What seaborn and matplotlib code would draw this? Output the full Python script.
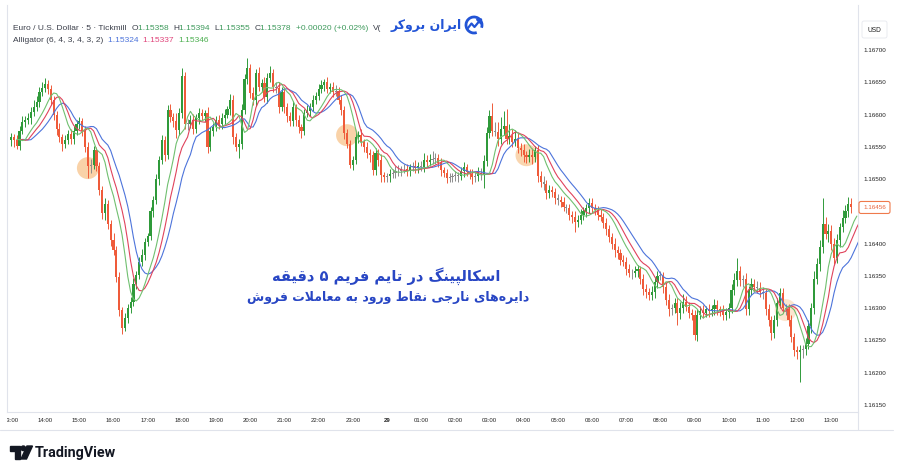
import numpy as np
import pandas as pd
import matplotlib
matplotlib.use("Agg")
import matplotlib.pyplot as plt
import seaborn as sns
from matplotlib.patches import Polygon, Circle, Arc, FancyBboxPatch
from matplotlib.transforms import Bbox, TransformedBbox

# EURUSD 5 min closes, one row per hour (12 candles), starting 13:00
first_open = 1.16560
close = [
    1.16565, 1.16560, 1.16552, 1.16575, 1.16588, 1.16592, 1.16595, 1.16604, 1.16612, 1.16620, 1.16635, 1.16641,
    1.16648, 1.16640, 1.16622, 1.16600, 1.16578, 1.16565, 1.16555, 1.16560, 1.16570, 1.16562, 1.16575, 1.16585,
    1.16590, 1.16575, 1.16550, 1.16520, 1.16522, 1.16545, 1.16520, 1.16483, 1.16447, 1.16462, 1.16430, 1.16405,
    1.16390, 1.16348, 1.16297, 1.16270, 1.16285, 1.16300, 1.16310, 1.16337, 1.16352, 1.16372, 1.16383, 1.16403,
    1.16412, 1.16450, 1.16468, 1.16500, 1.16530, 1.16560, 1.16538, 1.16607, 1.16596, 1.16590, 1.16576, 1.16602,
    1.16660, 1.16585, 1.16585, 1.16592, 1.16578, 1.16595, 1.16602, 1.16597, 1.16602, 1.16550, 1.16575, 1.16580,
    1.16592, 1.16585, 1.16595, 1.16600, 1.16608, 1.16622, 1.16565, 1.16550, 1.16555, 1.16607, 1.16655, 1.16672,
    1.16633, 1.16622, 1.16665, 1.16643, 1.16649, 1.16627, 1.16657, 1.16665, 1.16643, 1.16641, 1.16612, 1.16635,
    1.16612, 1.16597, 1.16590, 1.16612, 1.16592, 1.16580, 1.16575, 1.16602, 1.16606, 1.16612, 1.16623, 1.16628,
    1.16640, 1.16645, 1.16650, 1.16640, 1.16643, 1.16635, 1.16637, 1.16623, 1.16607, 1.16571, 1.16555, 1.16522,
    1.16530, 1.16565, 1.16568, 1.16557, 1.16550, 1.16540, 1.16537, 1.16514, 1.16540, 1.16530, 1.16506, 1.16503,
    1.16504, 1.16508, 1.16510, 1.16512, 1.16513, 1.16515, 1.16516, 1.16512, 1.16518, 1.16520, 1.16517, 1.16520,
    1.16518, 1.16530, 1.16527, 1.16530, 1.16531, 1.16533, 1.16525, 1.16514, 1.16510, 1.16502, 1.16503, 1.16504,
    1.16506, 1.16504, 1.16512, 1.16518, 1.16511, 1.16508, 1.16503, 1.16505, 1.16510, 1.16508, 1.16528, 1.16572,
    1.16598, 1.16575, 1.16573, 1.16562, 1.16578, 1.16583, 1.16562, 1.16566, 1.16558, 1.16562, 1.16548, 1.16545,
    1.16537, 1.16534, 1.16538, 1.16534, 1.16545, 1.16505, 1.16495, 1.16493, 1.16478, 1.16483, 1.16480, 1.16470,
    1.16468, 1.16465, 1.16457, 1.16455, 1.16445, 1.16442, 1.16434, 1.16437, 1.16445, 1.16450, 1.16455, 1.16463,
    1.16455, 1.16452, 1.16445, 1.16442, 1.16432, 1.16422, 1.16410, 1.16400, 1.16390, 1.16385, 1.16375, 1.16372,
    1.16360, 1.16355, 1.16354, 1.16357, 1.16360, 1.16345, 1.16330, 1.16325, 1.16320, 1.16325, 1.16340, 1.16350,
    1.16350, 1.16333, 1.16313, 1.16298, 1.16300, 1.16308, 1.16292, 1.16300, 1.16310, 1.16302, 1.16293, 1.16290,
    1.16258, 1.16290, 1.16295, 1.16292, 1.16298, 1.16295, 1.16298, 1.16305, 1.16298, 1.16295, 1.16290, 1.16294,
    1.16300, 1.16328, 1.16343, 1.16358, 1.16343, 1.16345, 1.16298, 1.16328, 1.16338, 1.16333, 1.16332, 1.16325,
    1.16323, 1.16298, 1.16282, 1.16262, 1.16282, 1.16308, 1.16323, 1.16300, 1.16298, 1.16282, 1.16255, 1.16235,
    1.16232, 1.16235, 1.16236, 1.16245, 1.16272, 1.16300, 1.16345, 1.16368, 1.16395, 1.16430, 1.16415, 1.16420,
    1.16400, 1.16378, 1.16405, 1.16425, 1.16440, 1.16450, 1.16462, 1.16456,
]
# wick lengths above / below the body, in 0.00001
wick_up = [
    6, 5, 8, 7, 9, 6, 8, 7, 10, 9, 8, 9,
    8, 6, 5, 7, 6, 9, 5, 8, 6, 7, 8, 6,
    6, 5, 7, 8, 9, 6, 5, 7, 6, 8, 5, 6,
    12, 6, 8, 5, 7, 6, 8, 9, 6, 7, 8, 6,
    5, 7, 6, 8, 6, 9, 7, 8, 10, 6, 12, 8,
    12, 6, 8, 7, 9, 6, 8, 7, 5, 9, 6, 7,
    6, 8, 7, 9, 6, 10, 8, 6, 7, 9, 8, 16,
    7, 9, 5, 8, 6, 9, 7, 10, 6, 8, 9, 7,
    8, 6, 7, 9, 5, 8, 6, 7, 9, 6, 8, 7,
    7, 9, 5, 8, 6, 7, 9, 5, 8, 6, 7, 5,
    6, 8, 7, 9, 5, 8, 6, 7, 8, 6, 9, 5,
    6, 7, 5, 8, 9, 6, 7, 8, 6, 7, 9, 6,
    8, 10, 7, 9, 12, 8, 6, 7, 5, 6, 7, 5,
    6, 5, 7, 8, 6, 5, 7, 6, 8, 7, 9, 8,
    9, 20, 14, 16, 18, 22, 25, 20, 12, 14, 10, 8,
    9, 7, 8, 10, 6, 8, 7, 9, 6, 8, 7, 6,
    7, 6, 8, 5, 7, 6, 8, 7, 9, 6, 7, 8,
    8, 6, 7, 9, 6, 8, 7, 6, 8, 7, 6, 8,
    7, 9, 6, 8, 7, 6, 8, 7, 6, 9, 8, 7,
    8, 6, 7, 9, 6, 8, 7, 10, 12, 9, 7, 6,
    7, 9, 8, 10, 6, 8, 7, 9, 8, 6, 10, 7,
    8, 10, 12, 20, 8, 7, 9, 6, 8, 7, 9, 8,
    8, 7, 9, 6, 8, 7, 9, 8, 6, 8, 7, 6,
    6, 8, 7, 9, 10, 8, 12, 9, 10, 41, 12, 10,
    9, 8, 10, 7, 12, 10, 10, 8,
]
wick_dn = [
    8, 10, 6, 7, 5, 8, 6, 9, 7, 6, 8, 7,
    6, 8, 7, 9, 10, 8, 12, 7, 6, 8, 7, 6,
    7, 9, 8, 18, 10, 6, 8, 7, 9, 10, 8, 9,
    8, 7, 9, 10, 6, 8, 7, 6, 8, 7, 6, 8,
    7, 6, 8, 7, 9, 6, 10, 7, 8, 9, 12, 7,
    8, 7, 9, 6, 8, 7, 9, 6, 8, 10, 7, 8,
    6, 8, 7, 9, 6, 8, 10, 7, 17, 8, 6, 7,
    8, 7, 9, 6, 8, 7, 9, 6, 8, 7, 9, 6,
    10, 9, 8, 7, 9, 8, 11, 7, 6, 8, 7, 6,
    6, 7, 8, 6, 7, 8, 6, 7, 8, 9, 7, 5,
    8, 7, 9, 6, 8, 7, 10, 8, 7, 9, 10, 8,
    7, 8, 6, 9, 7, 8, 6, 8, 7, 6, 8, 7,
    6, 7, 8, 6, 7, 8, 6, 9, 7, 8, 6, 7,
    7, 8, 6, 9, 7, 8, 10, 7, 8, 9, 22, 8,
    8, 9, 7, 10, 8, 9, 7, 8, 9, 7, 8, 9,
    10, 9, 8, 10, 7, 9, 8, 10, 9, 7, 8, 9,
    8, 9, 7, 8, 9, 10, 16, 8, 7, 8, 9, 7,
    7, 8, 9, 7, 8, 9, 7, 8, 10, 9, 8, 7,
    8, 7, 9, 6, 8, 7, 9, 10, 8, 7, 9, 8,
    7, 9, 8, 10, 9, 7, 18, 9, 8, 7, 9, 8,
    8, 9, 7, 8, 6, 9, 7, 8, 9, 7, 8, 9,
    9, 8, 7, 8, 9, 10, 8, 9, 7, 8, 9, 8,
    9, 8, 10, 12, 8, 9, 7, 8, 9, 10, 8, 9,
    10, 46, 12, 9, 8, 10, 9, 8, 10, 9, 8, 12,
    10, 9, 8, 10, 7, 8, 9, 8,
]
hour_labels = ["13:00", "14:00", "15:00", "16:00", "17:00", "18:00", "19:00", "20:00",
               "21:00", "22:00", "23:00", "29", "01:00", "02:00", "03:00", "04:00",
               "05:00", "06:00", "07:00", "08:00", "09:00", "10:00", "11:00", "12:00", "13:00"]
price_ticks = [1.16700, 1.16650, 1.16600, 1.16550, 1.16500, 1.16400,
               1.16350, 1.16300, 1.16250, 1.16200, 1.16150]
last_price = 1.16456
# orange entry circles (candle index, price)
circle_idx = [27, 118, 181, 272]
circle_price = [1.16517, 1.16568, 1.16537, 1.16297]
circle_alpha = [0.55, 0.55, 0.5, 0.3]

title_fa = "اسکالپینگ در تایم فریم ۵ دقیقه"
subtitle_fa = "دایره\u200cهای نارجی نقاط ورود به معاملات فروش"
brand_fa = "ایران بروکر"


# --- simple Arabic-script shaping (matplotlib draws glyphs left to right, unjoined) ---
def _forms(base, n):
    return tuple(chr(base + k) for k in range(n))

DUAL = {"ب": _forms(0xFE8F, 4), "ت": _forms(0xFE95, 4), "ج": _forms(0xFE9D, 4),
        "س": _forms(0xFEB1, 4), "ش": _forms(0xFEB5, 4), "ط": _forms(0xFEC1, 4),
        "ع": _forms(0xFEC9, 4), "ف": _forms(0xFED1, 4), "ق": _forms(0xFED5, 4),
        "ل": _forms(0xFEDD, 4), "م": _forms(0xFEE1, 4), "ن": _forms(0xFEE5, 4),
        "ه": _forms(0xFEE9, 4), "پ": _forms(0xFB56, 4), "ک": _forms(0xFB8E, 4),
        "گ": _forms(0xFB92, 4), "ی": _forms(0xFBFC, 4)}
RIGHT = {"ا": _forms(0xFE8D, 2), "د": _forms(0xFEA9, 2), "ر": _forms(0xFEAD, 2),
         "و": _forms(0xFEED, 2)}


def shape(text):
    out = []
    n = len(text)
    i = 0
    while i < n:
        ch = text[i]
        prev = text[i - 1] if i > 0 else ""
        nxt = text[i + 1] if i + 1 < n else ""
        if ch == "ل" and nxt == "ا":
            out.append("\uFEFC" if prev in DUAL else "\uFEFB")
            i += 2
            continue
        if ch in DUAL:
            p, q = prev in DUAL, (nxt in DUAL or nxt in RIGHT)
            f = DUAL[ch]
            out.append(f[3] if p and q else f[1] if p else f[2] if q else f[0])
        elif ch in RIGHT:
            out.append(RIGHT[ch][1] if prev in DUAL else RIGHT[ch][0])
        elif ch != "\u200c":
            out.append(ch)
        i += 1
    return "".join(reversed(out))


# --- candles ---
df = pd.DataFrame({"close": close})
df["open"] = [first_open] + close[:-1]
df["up"] = np.array(wick_up) * 1e-5
df["dn"] = np.array(wick_dn) * 1e-5
df["high"] = df[["open", "close"]].max(axis=1) + df["up"]
df["low"] = df[["open", "close"]].min(axis=1) - df["dn"]
df["idx"] = np.arange(len(df))
body = df["close"] - df["open"]
df["color"] = np.where(body.abs() < 2.5e-5, "#8c8c8c", np.where(body > 0, "#2f9a3a", "#ef5b3a"))
df["h"] = np.where(body.abs() < 1.2e-5, np.sign(body.replace(0, 1)) * 1.2e-5, body)

# Alligator (6, 4, 3, 4, 3, 2) on median price
hl2 = (df["high"] + df["low"]) / 2
rows = []
for name, length, shift in [("jaw", 6, 4), ("teeth", 4, 3), ("lips", 3, 2)]:
    smma = hl2.ewm(alpha=1 / length, adjust=False).mean()
    rows.append(pd.DataFrame({"idx": df["idx"] + shift, "value": smma, "line": name}))
gator = pd.concat(rows, ignore_index=True)

sns.set_theme(style="white")
plt.rcParams["font.family"] = ["Liberation Sans", "DejaVu Sans"]

W, H = 900, 471
fig = plt.figure(figsize=(9, 4.71), dpi=100)
fig.patch.set_facecolor("white")

PX_PER_PRICE = 64540.0
def price_at(py):
    return 1.167 - (py - 50) / PX_PER_PRICE
def idx_at(px):
    return (px - 11) / 2.848

ax = fig.add_axes([7 / W, 1 - 412 / H, (858 - 7) / W, (412 - 5) / H])
ax.set_facecolor("white")

ax.scatter(circle_idx, circle_price, s=250, c="#f5ae62", alpha=circle_alpha, lw=0, zorder=1)
ax.vlines(df["idx"], df["low"], df["high"], colors=df["color"], lw=0.7, zorder=2)
ax.bar(df["idx"], df["h"], bottom=df["open"], width=0.75, color=df["color"], lw=0, zorder=2)
sns.lineplot(data=gator, x="idx", y="value", hue="line", estimator=None, sort=True,
             palette={"jaw": "#4d74db", "teeth": "#e0435c", "lips": "#70c070"},
             linewidth=0.8, legend=False, ax=ax, zorder=3)

ax.set_xlim(idx_at(7), idx_at(858))
ax.set_ylim(price_at(412), price_at(5))
ax.set_xlabel("")
ax.set_ylabel("")

ax.set_xticks(np.arange(len(hour_labels)) * 12)
ax.set_xticklabels(hour_labels)
ax.yaxis.tick_right()
ax.set_yticks(price_ticks)
ax.set_yticklabels([f"{p:.5f}" for p in price_ticks])
ax.tick_params(axis="x", length=0, pad=4, labelsize=4.3, labelcolor="#222222")
ax.tick_params(axis="y", length=0, pad=4, labelsize=4.5, labelcolor="#222222")
for lbl in ax.get_xticklabels():
    if lbl.get_text() == "29":
        lbl.set_fontweight("bold")
first_lbl = ax.get_xticklabels()[0]
first_lbl.set_clip_box(TransformedBbox(Bbox([[7 / W, 0], [1, 1]]), fig.transFigure))
first_lbl.set_clip_on(True)

ax.spines["top"].set_visible(False)
for side in ["left", "right", "bottom"]:
    ax.spines[side].set_color("#e0e3eb")
    ax.spines[side].set_linewidth(0.8)

# overlay in pixel coordinates for the chrome
ov = fig.add_axes([0, 0, 1, 1], zorder=10)
ov.set_xlim(0, W)
ov.set_ylim(H, 0)
ov.axis("off")
ov.patch.set_alpha(0)

ov.plot([0, 893], [430, 430], color="#e0e3eb", lw=0.8)
ov.plot([858, 858], [412, 430], color="#e0e3eb", lw=0.8)
ov.add_patch(FancyBboxPatch((862, 21), 25, 17, boxstyle="round,pad=0,rounding_size=2",
                            fc="white", ec="#e6e8ee", lw=0.6))
ov.text(874.5, 30, "USD", fontsize=4.8, color="#222222", ha="center", va="center")

py = 50 + (1.167 - last_price) * PX_PER_PRICE
ov.add_patch(FancyBboxPatch((859, py - 6), 31, 12, boxstyle="round,pad=0,rounding_size=2",
                            fc="white", ec="#ef7a4c", lw=0.8))
ov.text(874.5, py, f"{last_price:.5f}", fontsize=4.5, color="#e8643c", ha="center", va="center")

# legend header
renderer = fig.canvas.get_renderer()
def seq_text(x, y, parts, size):
    for s, col in parts:
        t = ov.text(x, y, s, color=col, fontsize=size, ha="left", va="center")
        x += t.get_window_extent(renderer=renderer).width

dark, grn = "#3b3f4a", "#3e9a5c"
seq_text(13, 28, [("Euro / U.S. Dollar · 5 · Tickmill  ", dark), ("O", dark), ("1.15358  ", grn),
                  ("H", dark), ("1.15394  ", grn), ("L", dark), ("1.15355  ", grn),
                  ("C", dark), ("1.15378  ", grn), ("+0.00020 (+0.02%)  ", grn), ("V(", dark)], 6.0)
seq_text(13, 40, [("Alligator (6, 4, 3, 4, 3, 2)  ", dark), ("1.15324  ", "#4d74db"),
                  ("1.15337  ", "#e0457b"), ("1.15346", "#4caf50")], 6.0)

# brand logo
blue = "#2254d6"
ov.text(462, 25, shape(brand_fa), fontsize=9, fontweight="bold", color=blue,
        family=["DejaVu Sans"], ha="right", va="center")
ov.add_patch(Arc((474, 25), 16, 16, theta1=70, theta2=20, color=blue, lw=2.0))
ov.plot([468, 471.5, 474.5, 479], [28, 23.5, 27, 21.5], color=blue, lw=1.6, solid_capstyle="round")
ov.add_patch(Polygon([[476.5, 19.5], [481.5, 19], [481, 24]], closed=True, color=blue))

# Persian annotation
ann = "#2846c4"
ov.text(386, 276, shape(title_fa), fontsize=10.5, fontweight="bold", color=ann,
        family=["DejaVu Sans"], ha="center", va="center")
ov.text(388, 298, shape(subtitle_fa), fontsize=9, fontweight="bold", color=ann,
        family=["DejaVu Sans"], ha="center", va="center")

# TradingView logo
tv = "#131722"
ov.add_patch(Polygon([[10, 446], [20, 446], [20, 459], [15, 459], [15, 450.5], [10, 450.5]],
                     closed=True, color=tv))
ov.add_patch(Circle((23.3, 448.3), 2.3, color=tv))
ov.add_patch(Polygon([[27, 446], [32.5, 446], [26.5, 459], [21, 459]], closed=True, color=tv))
ov.text(35, 452.5, "TradingView", fontsize=10.4, fontweight="bold", color=tv,
        family=["Roboto", "DejaVu Sans"], ha="left", va="center")

fig.savefig("out.png", dpi=100, facecolor="white")
